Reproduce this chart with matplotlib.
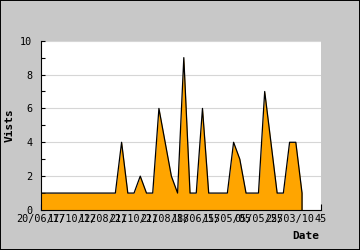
import numpy as np
import matplotlib
matplotlib.use("Agg")
import matplotlib.pyplot as plt
from matplotlib.patches import Rectangle

# visits per day
visits = [1, 1, 1, 1, 1, 1, 1, 1, 1, 1, 1, 1, 1, 4, 1, 1, 2, 1, 1, 6,
          4, 2, 1, 9, 1, 1, 6, 1, 1, 1, 1, 4, 3, 1, 1, 1, 7, 4, 1, 1,
          4, 4, 1]
tick_pos = [0, 5, 10, 15, 20, 25, 30, 35, 40, 45]
tick_labels = ["20/06/17", "17/10/12", "12/08/21", "21/10/21", "21/08/18",
               "18/06/15", "15/05/05", "05/05/25", "25/03/10", "45"]
y_ticks = [0, 2, 4, 6, 8, 10]

BG = "#c8c8c8"
ORANGE = "#ffa500"
MONO = "DejaVu Sans Mono"

fig = plt.figure(figsize=(3.6, 2.5), dpi=100, facecolor=BG)
fig.patches.append(Rectangle((0, 0), 1, 1, transform=fig.transFigure,
                             fill=False, edgecolor="black", lw=1.4))
ax = fig.add_axes([40.7 / 360, 40 / 250, 280 / 360, 169.3 / 250])
ax.set_facecolor("white")

x = np.arange(len(visits))
ax.fill_between(x, visits, 0, color=ORANGE, lw=0, zorder=2)
# outline incl. the drop at the end
ax.plot(list(x) + [x[-1]], visits + [0], color="black", lw=0.9, zorder=3)

ax.set_xlim(0, 45)
ax.set_ylim(0, 10)
ax.set_yticks(y_ticks)
ax.set_yticks([1, 3, 5, 7, 9], minor=True)
ax.set_xticks(tick_pos)
ax.set_xticklabels(tick_labels)
ax.yaxis.grid(True, color="#d6d6d6", lw=0.8, zorder=1)
ax.set_axisbelow(True)

for s in ["top", "right"]:
    ax.spines[s].set_visible(False)
for s in ["left", "bottom"]:
    ax.spines[s].set_linewidth(0.8)
    ax.spines[s].set_zorder(4)

ax.tick_params(axis="y", which="both", direction="in", length=3, width=0.8,
               pad=6, labelsize=7.3)
ax.tick_params(axis="x", direction="in", length=4, width=0.8, pad=3,
               labelsize=7.3)
for lbl in ax.get_xticklabels() + ax.get_yticklabels():
    lbl.set_family(MONO)

fig.text(10 / 360, 0.5, "Vists", rotation=90, ha="center", va="center",
         family=MONO, fontweight="bold", fontsize=8)
fig.text(319 / 360, 14 / 250, "Date", ha="right", va="center",
         family=MONO, fontweight="bold", fontsize=8)

fig.savefig("out.png", dpi=100, facecolor=BG)
